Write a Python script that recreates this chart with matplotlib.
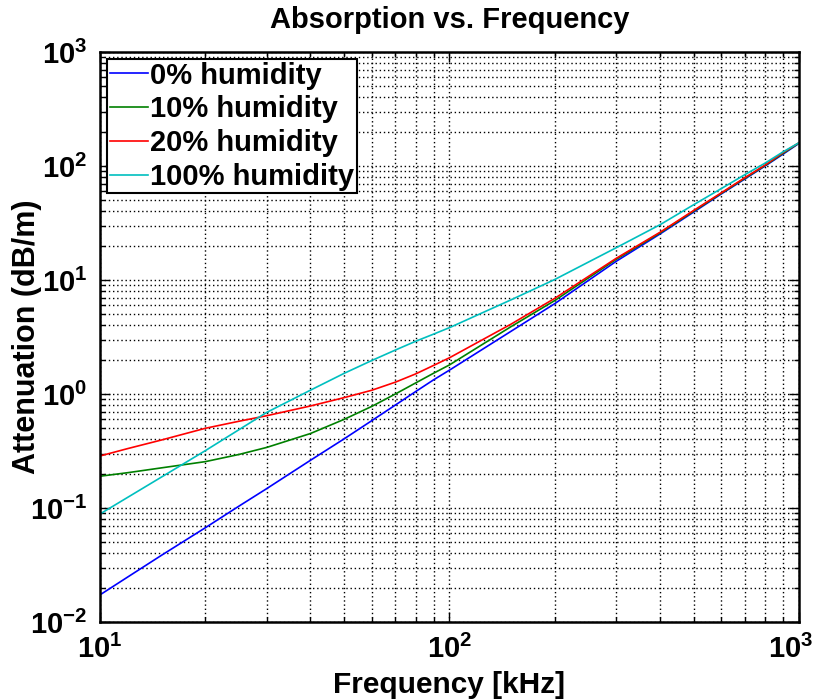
import matplotlib
matplotlib.use("Agg")
import matplotlib.pyplot as plt
import matplotlib.transforms as mtransforms
from matplotlib.ticker import FixedLocator, FixedFormatter, LogLocator, NullFormatter

# ---- data ----
freq_khz = [10, 12, 15, 20, 25, 30, 40, 50, 60, 70, 80, 90, 100, 150, 200,
            300, 400, 500, 600, 700, 800, 900, 1000]
hum_0 = [0.0173, 0.0248, 0.0385, 0.067, 0.104, 0.148, 0.262, 0.405, 0.585, 0.80,
         1.05, 1.33, 1.62, 3.55, 6.2, 14.6, 25.3, 39.5, 57.0, 77.0, 100, 127, 158]
hum_10 = [0.19, 0.204, 0.225, 0.255, 0.295, 0.34, 0.45, 0.60, 0.78, 1.0,
          1.25, 1.52, 1.8, 3.9, 6.6, 15.2, 25.8, 40.2, 57.7, 78.0, 101, 129, 159]
hum_20 = [0.286, 0.332, 0.395, 0.50, 0.577, 0.645, 0.785, 0.93, 1.08, 1.27,
          1.50, 1.78, 2.08, 4.1, 6.9, 15.5, 26.2, 40.8, 58.3, 79.0, 102, 131, 160]
hum_100 = [0.0886, 0.124, 0.187, 0.318, 0.487, 0.69, 1.08, 1.52, 1.97, 2.43,
           2.9, 3.35, 3.82, 6.7, 10.1, 19.2, 30.5, 45.8, 63.5, 84.0, 106, 133, 160]
series_labels = ["0% humidity", "10% humidity", "20% humidity", "100% humidity"]
series_colors = ["#0000ff", "#008000", "#ff0000", "#00bfbf"]
x_ticks = [10, 100, 1000]
x_ticklabels = [r"$\mathbf{10^{1}}$", r"$\mathbf{10^{2}}$", r"$\mathbf{10^{3}}$"]
y_ticks = [0.01, 0.1, 1, 10, 100, 1000]
y_ticklabels = [r"$\mathbf{10^{-2}}$", r"$\mathbf{10^{-1}}$", r"$\mathbf{10^{0}}$",
                r"$\mathbf{10^{1}}$", r"$\mathbf{10^{2}}$", r"$\mathbf{10^{3}}$"]
title = "Absorption vs. Frequency"
xlabel = "Frequency [kHz]"
ylabel = "Attenuation (dB/m)"

plt.rcParams["font.family"] = ["Liberation Sans", "DejaVu Sans"]
plt.rcParams["font.weight"] = "bold"
plt.rcParams["mathtext.fontset"] = "custom"
plt.rcParams["mathtext.bf"] = "Liberation Sans:bold"
plt.rcParams["mathtext.rm"] = "Liberation Sans:bold"

fig = plt.figure(figsize=(8.2, 7.0), dpi=100)
ax = fig.add_axes([100 / 820, 78 / 700, 699 / 820, 570 / 700])

for ys, lab, col in zip([hum_0, hum_10, hum_20, hum_100], series_labels, series_colors):
    ax.plot(freq_khz, ys, color=col, lw=1.2, label=lab)

ax.set_xscale("log")
ax.set_yscale("log")
ax.set_xlim(10, 1000)
ax.set_ylim(0.01, 1000)

ax.xaxis.set_major_locator(FixedLocator(x_ticks))
ax.xaxis.set_major_formatter(FixedFormatter(x_ticklabels))
ax.yaxis.set_major_locator(FixedLocator(y_ticks))
ax.yaxis.set_major_formatter(FixedFormatter(y_ticklabels))
ax.xaxis.set_minor_locator(LogLocator(base=10, subs=range(2, 10), numticks=20))
ax.yaxis.set_minor_locator(LogLocator(base=10, subs=range(2, 10), numticks=20))
ax.xaxis.set_minor_formatter(NullFormatter())
ax.yaxis.set_minor_formatter(NullFormatter())

ax.grid(True, which="both", color="black", linestyle=(0, (1, 2)), linewidth=1.0)
ax.tick_params(which="both", direction="in", top=True, right=True, width=1.0)
ax.tick_params(which="major", length=7, labelsize=21, pad=9)
ax.tick_params(which="minor", length=3.5)
for s in ax.spines.values():
    s.set_linewidth(1.8)

# keep the rightmost x tick label inside the figure
fig.canvas.draw()
last = ax.get_xticklabels()[-1]
last.set_transform(last.get_transform() +
                   mtransforms.ScaledTranslation(-8 / 100, 0, fig.dpi_scale_trans))

ax.set_title(title, fontsize=21, fontweight="bold", pad=17)
ax.set_xlabel(xlabel, fontsize=21.5, fontweight="bold", labelpad=5)
ax.set_ylabel(ylabel, fontsize=22, fontweight="bold")
ax.yaxis.set_label_coords(-0.083, 0.5)

leg = ax.legend(loc="upper left", fontsize=21, handlelength=1.3, handletextpad=0.1,
                labelspacing=0.2, borderpad=0.08, borderaxespad=0.25,
                fancybox=False, framealpha=1, edgecolor="black")
leg.get_frame().set_linewidth(1.5)
for t in leg.get_texts():
    t.set_fontweight("bold")

fig.savefig("out.png", dpi=100)
